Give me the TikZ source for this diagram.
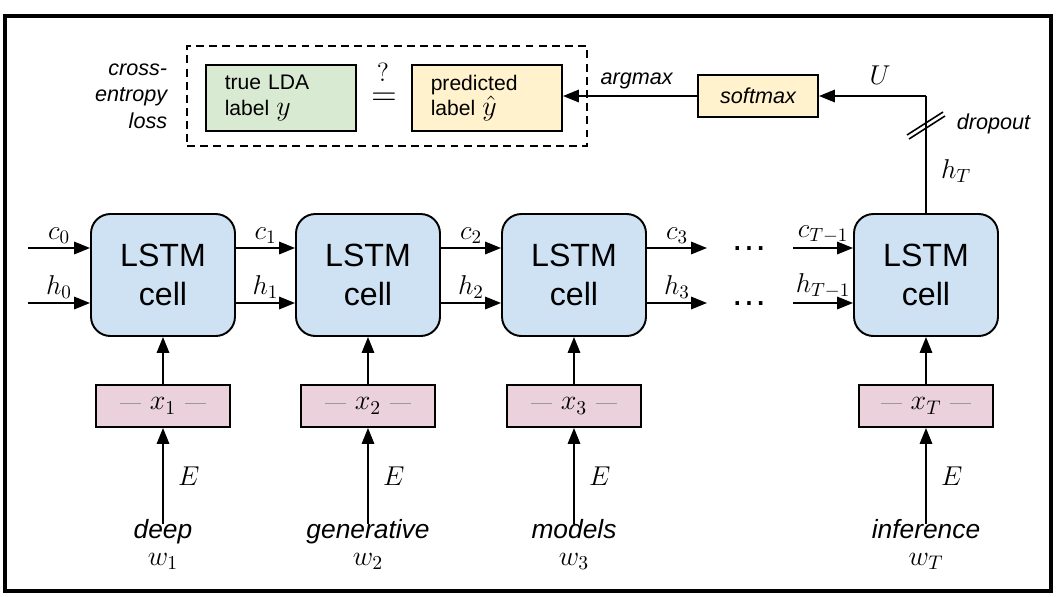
\RequirePackage{fix-cm}
\documentclass[tikz,border=0pt]{standalone}
\usepackage{fontspec}
\newfontfamily\arialfont{Liberation Sans}
\usepackage{xcolor}
\definecolor{cellblue}{HTML}{CFE2F3}
\definecolor{truegreen}{HTML}{D9EAD3}
\definecolor{predyellow}{HTML}{FFF2CC}
\definecolor{embpink}{HTML}{EAD1DC}
\usetikzlibrary{arrows.meta, positioning}

\tikzset{
  lstmcell/.style={draw, fill=cellblue, rounded corners=11pt, minimum width=2.88cm,
    minimum height=2.44cm, align=center, font=\arialfont\fontsize{18.3}{22}\selectfont},
  embbox/.style={draw, fill=embpink, minimum width=2.68cm, minimum height=0.84cm,
    font=\fontsize{16}{18}\selectfont},
  labelbox/.style={draw, minimum width=3cm, minimum height=1.32cm, text width=2.25cm,
    align=left, font=\arialfont\fontsize{12}{14.5}\selectfont},
  wordnode/.style={align=center, inner sep=1pt, font=\arialfont\itshape\fontsize{15}{16}\selectfont},
  mathlbl/.style={font=\fontsize{15.5}{17}\selectfont, inner sep=2pt},
  itlbl/.style={font=\arialfont\itshape\fontsize{12.3}{14}\selectfont},
  dotsnode/.style={font=\arialfont\fontsize{21}{23}\selectfont}
}
\newcommand{\embtext}[1]{{\color{gray!80}\rule[3.5pt]{12pt}{0.4pt}}\ $#1$\ {\color{gray!80}\rule[3.5pt]{12pt}{0.4pt}}}

\begin{document}
\begin{tikzpicture}[x=0.02cm, y=-0.02cm, line width=1.1pt,
  >={Triangle[length=9pt, width=7pt]}]

  \useasboundingbox (0,0) rectangle (1059,596);
  \draw[line width=2.3pt] (5,16) rectangle (1051,591);

  % LSTM cells
  \node[lstmcell] (cell1) at (163,275) {LSTM\\cell};
  \node[lstmcell] (cell2) at (368,275) {LSTM\\cell};
  \node[lstmcell] (cell3) at (574,275) {LSTM\\cell};
  \node[lstmcell] (cellT) at (926,275) {LSTM\\cell};

  % embeddings
  \node[embbox] (x1) at (163,406) {\embtext{x_1}};
  \node[embbox] (x2) at (368,406) {\embtext{x_2}};
  \node[embbox] (x3) at (574,406) {\embtext{x_3}};
  \node[embbox] (xT) at (926,406) {\embtext{x_T}};

  % words
  \node[wordnode, anchor=north] (w1) at (163,517) {deep\\[-1pt]{\fontsize{16}{18}\selectfont$w_1$}};
  \node[wordnode, anchor=north] (w2) at (368,517) {generative\\[-1pt]{\fontsize{16}{18}\selectfont$w_2$}};
  \node[wordnode, anchor=north] (w3) at (574,517) {models\\[-1pt]{\fontsize{16}{18}\selectfont$w_3$}};
  \node[wordnode, anchor=north] (wT) at (926,517) {inference\\[-1pt]{\fontsize{16}{18}\selectfont$w_T$}};

  \foreach \i in {1,2,3,T} {
    \draw[->] ([yshift=-4pt]w\i.north) -- node[mathlbl, right=6pt] {$E$} (x\i.south);
    \draw[->] (x\i.north) -- (cell\i.south);
  }

  % recurrent connections
  \coordinate (cin) at (28,248);
  \coordinate (hin) at (28,303);
  \draw[->] (cin) -- node[mathlbl, above] {$c_0$} (cell1.west |- cin);
  \draw[->] (hin) -- node[mathlbl, above] {$h_0$} (cell1.west |- hin);
  \draw[->] (cell1.east |- cin) -- node[mathlbl, above] {$c_1$} (cell2.west |- cin);
  \draw[->] (cell1.east |- hin) -- node[mathlbl, above] {$h_1$} (cell2.west |- hin);
  \draw[->] (cell2.east |- cin) -- node[mathlbl, above] {$c_2$} (cell3.west |- cin);
  \draw[->] (cell2.east |- hin) -- node[mathlbl, above] {$h_2$} (cell3.west |- hin);

  \node[dotsnode] (dotc) at (749,249) {…};
  \node[dotsnode] (doth) at (749,304) {…};
  \coordinate (cout) at (707,248);
  \coordinate (hout) at (707,303);
  \coordinate (cback) at (793,248);
  \coordinate (hback) at (793,303);
  \draw[->] (cell3.east |- cin) -- node[mathlbl, above] {$c_3$} (cout);
  \draw[->] (cell3.east |- hin) -- node[mathlbl, above] {$h_3$} (hout);
  \draw[->] (cback) -- node[mathlbl, above] {$c_{T-1}$} (cellT.west |- cback);
  \draw[->] (hback) -- node[mathlbl, above] {$h_{T-1}$} (cellT.west |- hback);

  % output
  \node[draw, fill=predyellow, minimum width=2.4cm, minimum height=0.84cm,
    font=\arialfont\itshape\fontsize{12.3}{14}\selectfont] (softmax) at (758,96) {softmax};
  \coordinate (corner) at (926,96);
  \draw (cellT.north) -- node[mathlbl, right=6pt, pos=0.36] {$h_T$} (corner);
  \draw[->] (corner) -- node[mathlbl, above=4pt, pos=0.43] {$U$} (softmax.east);
  \draw[line width=0.9pt] (907,135) -- (943,112);
  \draw[line width=0.9pt] (909,139) -- (945,116);
  \node[itlbl, anchor=west] (dropout) at (950,124) {dropout};

  % loss
  \node[draw, dashed, dash pattern=on 4.5pt off 3pt, minimum width=8cm, minimum height=2cm] (lossbox) at (387,96) {};
  \node[labelbox, fill=truegreen] (truelbl) at (281,98) {true LDA\\label {\fontsize{16}{18}\selectfont$y$}};
  \node[labelbox, fill=predyellow] (predlbl) at (487,98) {predicted\\label {\fontsize{16}{18}\selectfont$\hat{y}$}};
  \node[font=\fontsize{20}{22}\selectfont, inner sep=0pt] (eq) at (384,99) {$=$};
  \node[font=\fontsize{15}{17}\selectfont, inner sep=0pt] (qmark) at (383,72) {$?$};
  \draw[->] (softmax.west) -- node[itlbl, above, pos=0.45] {argmax} (predlbl.east |- softmax.west);
  \node[itlbl, align=right, anchor=east] (losstext) at (174,96) {cross-\\[1pt]entropy\\[1pt]loss};

\end{tikzpicture}
\end{document}
